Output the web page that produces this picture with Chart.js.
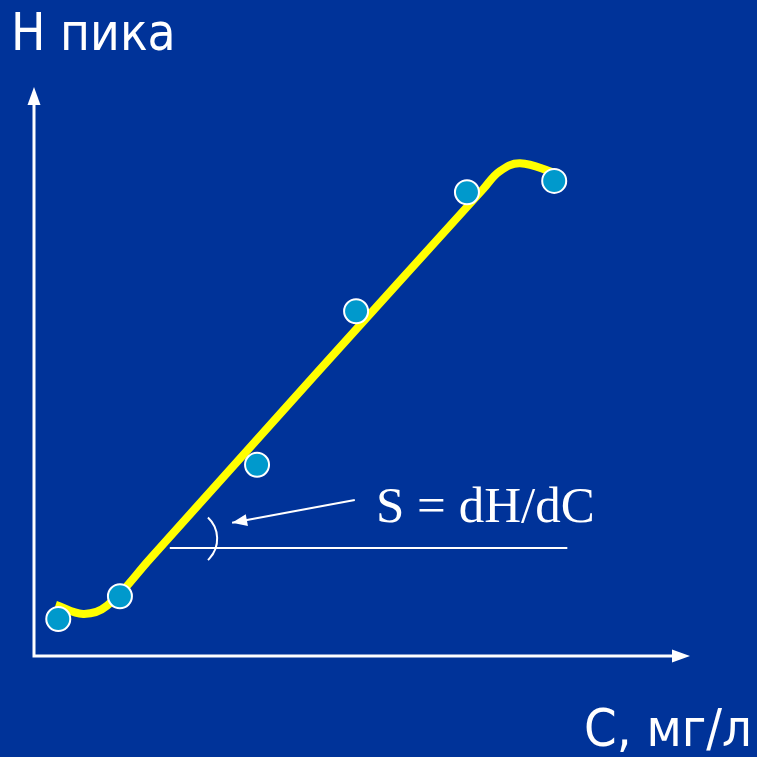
<!DOCTYPE html>
<html>
<head>
<meta charset="utf-8">
<script src="https://cdn.jsdelivr.net/npm/chart.js@4.4.1/dist/chart.umd.min.js"></script>
<style>
  html, body { margin: 0; padding: 0; background: #003399; }
  #wrap { width: 757px; height: 757px; }
</style>
</head>
<body>
<div id="wrap"><canvas id="calib"></canvas></div>
<script>
// measured points (C, H) in arbitrary units, axes 0..10
const pointsC = [0.37, 1.31, 3.40, 4.91, 6.60, 7.93];
const pointsH = [0.65, 1.05, 3.36, 6.06, 8.15, 8.35];

// yellow calibration curve
const curveC = [0.33, 0.75, 1.11, 1.77, 4.30, 6.85, 7.10, 7.41, 7.94];
const curveH = [0.90, 0.74, 0.88, 1.71, 4.96, 8.21, 8.52, 8.66, 8.49];

// slope annotation
const baseC = [2.07, 8.13];
const baseH = [1.90, 1.90];
const pointerC = [4.89, 3.02];
const pointerH = [2.74, 2.34];
const arcCenter = { x: 2.35, y: 2.06 };

const bgBlue = "#003399";
const yellow = "#ffff00";
const dotBlue = "#0099cc";

const toXY = (xs, ys) => xs.map((x, i) => ({ x: x, y: ys[i] }));

function arrowHead(ctx, x, y, angle, len, half) {
  ctx.save();
  ctx.translate(x, y);
  ctx.rotate(angle);
  ctx.beginPath();
  ctx.moveTo(0, 0);
  ctx.lineTo(-len, -half);
  ctx.lineTo(-len, half);
  ctx.closePath();
  ctx.fill();
  ctx.restore();
}

const decorations = {
  id: "decorations",
  beforeDraw(chart) {
    const ctx = chart.ctx;
    ctx.save();
    ctx.fillStyle = bgBlue;
    ctx.fillRect(0, 0, chart.width, chart.height);
    ctx.restore();
  },
  beforeDatasetsDraw(chart) {
    const { ctx, chartArea: a } = chart;
    ctx.save();
    ctx.strokeStyle = "#ffffff";
    ctx.fillStyle = "#ffffff";
    ctx.lineWidth = 3;
    // axes with arrows
    ctx.beginPath();
    ctx.moveTo(a.left, a.top + 10);
    ctx.lineTo(a.left, a.bottom);
    ctx.lineTo(a.right - 10, a.bottom);
    ctx.stroke();
    arrowHead(ctx, a.left, a.top, -Math.PI / 2, 18, 6.5);
    arrowHead(ctx, a.right, a.bottom, 0, 18, 6.5);

    // angle arc
    const xs = chart.scales.x, ys = chart.scales.y;
    const cx = xs.getPixelForValue(arcCenter.x);
    const cy = ys.getPixelForValue(arcCenter.y);
    ctx.lineWidth = 2;
    ctx.beginPath();
    ctx.arc(cx, cy, 29, -0.82, 0.82);
    ctx.stroke();

    // pointer arrow head
    const x0 = xs.getPixelForValue(pointerC[0]), y0 = ys.getPixelForValue(pointerH[0]);
    const x1 = xs.getPixelForValue(pointerC[1]), y1 = ys.getPixelForValue(pointerH[1]);
    arrowHead(ctx, x1, y1, Math.atan2(y1 - y0, x1 - x0), 15, 6);
    ctx.restore();
  },
  afterDraw(chart) {
    const ctx = chart.ctx;
    ctx.save();
    ctx.fillStyle = "#ffffff";
    ctx.textBaseline = "alphabetic";
    ctx.font = "51px 'DejaVu Sans Condensed', 'DejaVu Sans', sans-serif";
    ctx.fillText("Н пика", 11, 50);
    ctx.font = "52px 'DejaVu Sans Condensed', 'DejaVu Sans', sans-serif";
    ctx.fillText("С, мг/л", 584, 746);
    ctx.font = "51px 'Liberation Serif', serif";
    ctx.fillText("S = dH/dC", 376, 522);
    ctx.restore();
  },
};

new Chart(document.getElementById("calib").getContext("2d"), {
  type: "scatter",
  data: {
    datasets: [
      {
        label: "points",
        data: toXY(pointsC, pointsH),
        pointRadius: 12,
        pointBackgroundColor: dotBlue,
        pointBorderColor: "#ffffff",
        pointBorderWidth: 2,
        showLine: false,
        order: 0,
      },
      {
        label: "curve",
        data: toXY(curveC, curveH),
        showLine: true,
        borderColor: yellow,
        borderWidth: 8,
        tension: 0.4,
        pointRadius: 0,
        order: 1,
      },
      {
        label: "base",
        data: toXY(baseC, baseH),
        showLine: true,
        borderColor: "#ffffff",
        borderWidth: 2,
        pointRadius: 0,
        order: 2,
      },
      {
        label: "pointer",
        data: toXY(pointerC, pointerH),
        showLine: true,
        borderColor: "#ffffff",
        borderWidth: 2,
        pointRadius: 0,
        order: 2,
      },
    ],
  },
  options: {
    responsive: true,
    maintainAspectRatio: false,
    animation: false,
    layout: {
      padding: { left: 34, right: 67, top: 87, bottom: 101 },
    },
    scales: {
      x: { type: "linear", min: 0, max: 10, display: false },
      y: { type: "linear", min: 0, max: 10, display: false },
    },
    plugins: {
      legend: { display: false },
      tooltip: { enabled: false },
    },
  },
  plugins: [decorations],
});
</script>
</body>
</html>
